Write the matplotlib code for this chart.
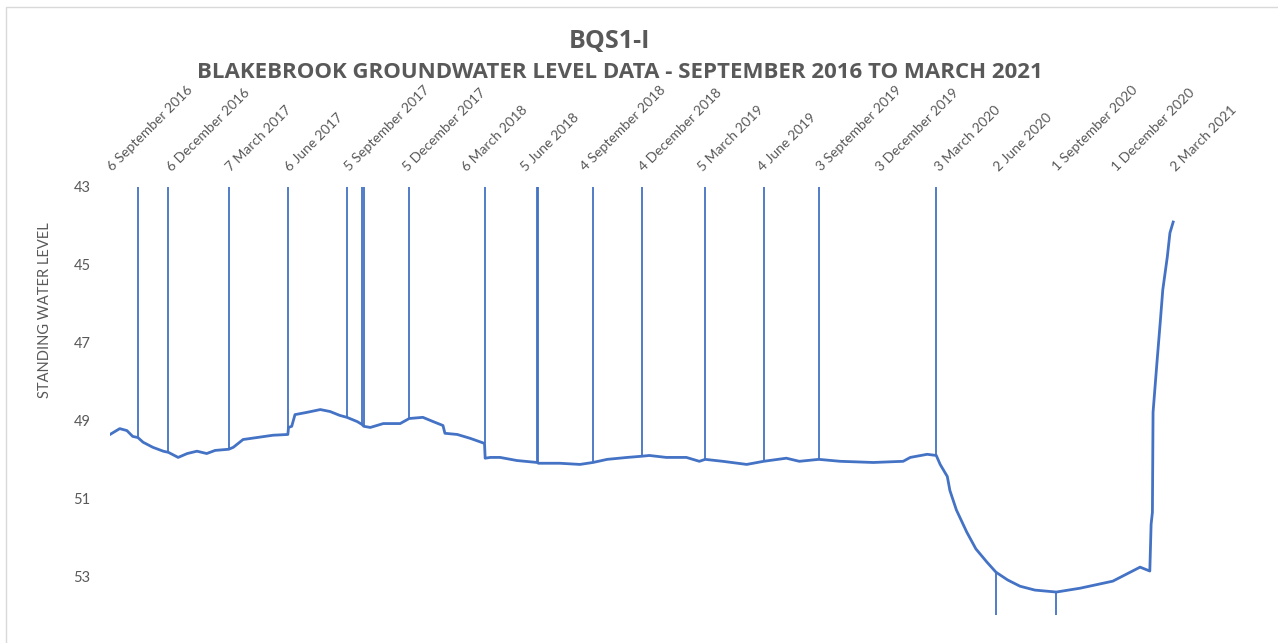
import matplotlib
matplotlib.use("Agg")
import matplotlib.pyplot as plt
from matplotlib.patches import Rectangle
import pandas as pd

# Standing water level readings (m below datum) for borehole BQS1-I
level_dates = [
    "2016-09-06", "2016-09-21", "2016-10-02", "2016-10-11", "2016-10-19",
    "2016-10-27", "2016-11-11", "2016-11-27", "2016-12-05", "2016-12-20",
    "2017-01-03", "2017-01-18", "2017-02-02", "2017-02-15", "2017-03-08",
    "2017-03-15", "2017-03-30", "2017-04-20", "2017-05-15", "2017-06-07",
    "2017-06-08", "2017-06-13", "2017-06-18", "2017-07-07", "2017-07-27",
    "2017-08-11", "2017-08-26", "2017-09-06", "2017-09-22", "2017-09-29",
    "2017-10-02", "2017-10-12", "2017-11-01", "2017-11-27", "2017-12-11",
    "2018-01-01", "2018-01-17", "2018-02-01", "2018-02-04", "2018-02-23",
    "2018-03-15", "2018-04-06", "2018-04-07", "2018-04-15", "2018-04-30",
    "2018-05-26", "2018-06-26", "2018-06-28", "2018-07-31", "2018-08-31",
    "2018-09-20", "2018-10-12", "2018-11-12", "2018-12-04", "2018-12-16",
    "2019-01-11", "2019-02-11", "2019-03-03", "2019-03-12", "2019-04-08",
    "2019-05-15", "2019-06-10", "2019-07-15", "2019-08-04", "2019-09-03",
    "2019-10-06", "2019-11-26", "2020-01-11", "2020-01-22", "2020-02-17",
    "2020-03-02", "2020-03-08", "2020-03-19", "2020-03-23", "2020-04-02",
    "2020-04-18", "2020-05-02", "2020-05-19", "2020-06-02", "2020-06-20",
    "2020-07-09", "2020-08-01", "2020-09-03", "2020-10-10", "2020-11-29",
    "2021-01-10", "2021-01-25", "2021-01-27", "2021-01-29", "2021-01-30",
    "2021-02-05", "2021-02-10", "2021-02-14", "2021-02-21", "2021-02-25",
    "2021-03-02",
]
level_values = [
    49.36, 49.21, 49.26, 49.41, 49.44,
    49.56, 49.69, 49.79, 49.82, 49.95,
    49.85, 49.79, 49.85, 49.77, 49.74,
    49.69, 49.49, 49.44, 49.38, 49.36,
    49.18, 49.15, 48.85, 48.79, 48.72,
    48.77, 48.87, 48.92, 49.03, 49.10,
    49.15, 49.18, 49.08, 49.08, 48.95,
    48.92, 49.03, 49.13, 49.33, 49.36,
    49.46, 49.59, 49.97, 49.95, 49.95,
    50.03, 50.08, 50.10, 50.10, 50.13,
    50.08, 50.00, 49.95, 49.92, 49.90,
    49.95, 49.95, 50.05, 50.00, 50.05,
    50.13, 50.05, 49.97, 50.05, 50.00,
    50.05, 50.08, 50.05, 49.95, 49.87,
    49.90, 50.13, 50.44, 50.80, 51.30,
    51.87, 52.30, 52.64, 52.90, 53.10,
    53.26, 53.36, 53.41, 53.31, 53.13,
    52.77, 52.87, 51.67, 51.36, 48.79,
    47.51, 46.49, 45.64, 44.79, 44.18,
    43.90,
]

# Logger lifted out on download visits: readings run off the scale
spike_up_dates = [
    "2016-10-19", "2016-12-05", "2017-03-08", "2017-06-07", "2017-09-06",
    "2017-09-29", "2017-10-02", "2017-12-11", "2018-04-06", "2018-06-26",
    "2018-06-28", "2018-09-20", "2018-12-04", "2019-03-12", "2019-06-10",
    "2019-09-03", "2020-03-02",
]
spike_down_dates = ["2020-06-02", "2020-09-03"]
spike_up_value = 43.0
spike_down_value = 54.0

tick_dates = [
    "2016-09-06", "2016-12-06", "2017-03-07", "2017-06-06", "2017-09-05",
    "2017-12-05", "2018-03-06", "2018-06-05", "2018-09-04", "2018-12-04",
    "2019-03-05", "2019-06-04", "2019-09-03", "2019-12-03", "2020-03-03",
    "2020-06-02", "2020-09-01", "2020-12-01", "2021-03-02",
]
tick_labels = [
    "6 September 2016", "6 December 2016", "7 March 2017", "6 June 2017",
    "5 September 2017", "5 December 2017", "6 March 2018", "5 June 2018",
    "4 September 2018", "4 December 2018", "5 March 2019", "4 June 2019",
    "3 September 2019", "3 December 2019", "3 March 2020", "2 June 2020",
    "1 September 2020", "1 December 2020", "2 March 2021",
]
y_ticks = [43, 45, 47, 49, 51, 53]

plt.rcParams["font.family"] = ["Lato", "DejaVu Sans"]
text_grey = "#595959"
line_blue = "#4472C4"

levels = pd.Series(level_values, index=pd.to_datetime(level_dates))
up_idx = pd.to_datetime(spike_up_dates)
down_idx = pd.to_datetime(spike_down_dates)

fig = plt.figure(figsize=(12.78, 6.43), dpi=100)

# chart area border
fig.patches.append(Rectangle((6 / 1278, -0.1), 1.2, 1.1 - 7 / 643,
                             transform=fig.transFigure, fill=False,
                             edgecolor="#d9d9d9", linewidth=1.0))

ax = fig.add_axes([110 / 1278, 28 / 643, 1082 / 1278, 428 / 643])
ax.plot(levels.index, levels.values, color=line_blue, linewidth=2.0)
ax.vlines(up_idx, levels.loc[up_idx].values, spike_up_value,
          color=line_blue, linewidth=1.3)
ax.vlines(down_idx, levels.loc[down_idx].values, spike_down_value,
          color=line_blue, linewidth=1.3)

ax.set_ylim(54, 43)
ax.set_xlim(pd.Timestamp("2016-09-06"), pd.Timestamp("2021-03-31"))
ax.set_yticks(y_ticks)
ax.set_xticks(pd.to_datetime(tick_dates))
ax.set_xticklabels(tick_labels)

for side in ["top", "bottom", "left", "right"]:
    ax.spines[side].set_visible(False)

ax.tick_params(axis="y", length=0, pad=14, labelsize=10.5, labelcolor=text_grey)
ax.tick_params(axis="x", length=0, pad=13, labelsize=10, labelcolor=text_grey,
               top=True, labeltop=True, bottom=False, labelbottom=False)
for label in ax.get_xticklabels():
    label.set_rotation(45)
    label.set_rotation_mode("anchor")
    label.set_ha("left")
    label.set_va("center")

ax.set_ylabel("STANDING WATER LEVEL", color=text_grey, fontsize=10.5, va="center")
ax.yaxis.set_label_coords(-0.060, 0.713)

fig.text(0.477, 0.935, "BQS1-I", ha="center", va="center", family="Open Sans",
         fontsize=18, fontweight="bold", color=text_grey)
fig.text(0.485, 0.888, "BLAKEBROOK GROUNDWATER LEVEL DATA - SEPTEMBER 2016 TO MARCH 2021",
         ha="center", va="center", family="Open Sans",
         fontsize=16, fontweight="bold", color=text_grey)

fig.savefig("out.png", dpi=100)
